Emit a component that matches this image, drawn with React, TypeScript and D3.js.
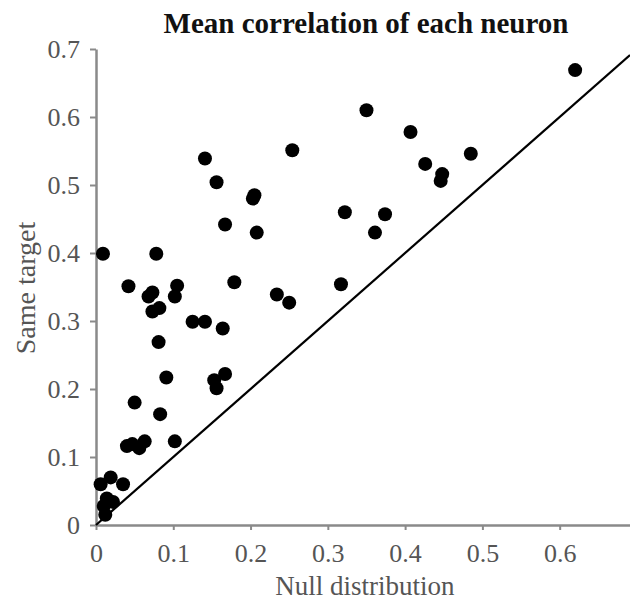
import React, { useEffect, useRef } from 'react';
import * as d3 from 'd3';

// each neuron: mean correlation under the null distribution vs. same target
const nullDist = [
  0.009, 0.078, 0.042, 0.073, 0.068, 0.105, 0.102, 0.082, 0.073, 0.179,
  0.125, 0.141, 0.164, 0.081, 0.091, 0.167, 0.153, 0.156, 0.050, 0.083,
  0.040, 0.047, 0.056, 0.063, 0.102, 0.006, 0.019, 0.035, 0.014, 0.022,
  0.012, 0.010, 0.141, 0.156, 0.203, 0.205, 0.167, 0.208, 0.254, 0.234,
  0.250, 0.350, 0.407, 0.426, 0.448, 0.446, 0.485, 0.322, 0.374, 0.361,
  0.620, 0.317
];
const sameTarget = [
  0.399, 0.399, 0.351, 0.342, 0.336, 0.352, 0.336, 0.319, 0.314, 0.357,
  0.299, 0.299, 0.289, 0.269, 0.217, 0.222, 0.213, 0.201, 0.180, 0.163,
  0.116, 0.119, 0.113, 0.123, 0.123, 0.060, 0.070, 0.060, 0.039, 0.034,
  0.015, 0.028, 0.539, 0.504, 0.480, 0.485, 0.442, 0.430, 0.551, 0.339,
  0.327, 0.610, 0.578, 0.531, 0.516, 0.506, 0.546, 0.460, 0.457, 0.430,
  0.669, 0.354
];

const xTicks = [0, 0.1, 0.2, 0.3, 0.4, 0.5, 0.6];
const yTicks = [0, 0.1, 0.2, 0.3, 0.4, 0.5, 0.6, 0.7];
const identityLine = [0, 0.691];

const title = 'Mean correlation of each neuron';
const xLabel = 'Null distribution';
const yLabel = 'Same target';

const serif = '"Liberation Serif", "Times New Roman", Times, serif';

export default function App() {
  const ref = useRef<SVGSVGElement>(null);

  useEffect(() => {
    const svg = d3.select(ref.current);
    svg.selectAll('*').remove();

    const x = d3.scaleLinear().domain([0, 0.691]).range([96, 630]);
    const y = d3.scaleLinear().domain([0, 0.7]).range([525, 49]);
    const fmt = (d: number) => (d === 0 ? '0' : d3.format('.1f')(d));

    const xAxis = svg.append('g')
      .attr('transform', 'translate(0,525)')
      .call(d3.axisBottom(x).tickValues(xTicks).tickFormat(fmt as any)
        .tickSize(5).tickSizeOuter(0).tickPadding(14));

    const yAxis = svg.append('g')
      .attr('transform', 'translate(96,0)')
      .call(d3.axisLeft(y).tickValues(yTicks).tickFormat(fmt as any)
        .tickSize(6).tickSizeOuter(0).tickPadding(10));

    [xAxis, yAxis].forEach(function(a) {
      a.attr('font-family', null).attr('font-size', null);
      a.select('.domain').attr('stroke', '#8a8a8a').attr('stroke-width', 2.5);
      a.selectAll('.tick line').attr('stroke', '#8a8a8a').attr('stroke-width', 2);
      a.selectAll('.tick text')
        .attr('fill', '#555')
        .style('font-family', serif)
        .style('font-size', '26px');
    });
    yAxis.selectAll('.tick text').attr('dy', '0.34em');

    svg.append('line')
      .attr('x1', x(identityLine[0])).attr('y1', y(identityLine[0]))
      .attr('x2', x(identityLine[1])).attr('y2', y(identityLine[1]))
      .attr('stroke', '#000')
      .attr('stroke-width', 2.2);

    svg.selectAll('.dot')
      .data(nullDist)
      .enter().append('circle')
        .attr('class', 'dot')
        .attr('r', 7)
        .attr('cx', function(d) { return x(d); })
        .attr('cy', function(d, i) { return y(sameTarget[i]); })
        .attr('fill', '#000');

    svg.append('text')
      .attr('x', 366).attr('y', 33)
      .attr('text-anchor', 'middle')
      .style('font-family', serif)
      .style('font-weight', 'bold')
      .style('font-size', '29px')
      .attr('fill', '#111')
      .text(title);

    svg.append('text')
      .attr('x', 365).attr('y', 595)
      .attr('text-anchor', 'middle')
      .style('font-family', serif)
      .style('font-size', '27px')
      .attr('fill', '#555')
      .text(xLabel);

    svg.append('text')
      .attr('transform', 'translate(35,288) rotate(-90)')
      .attr('text-anchor', 'middle')
      .style('font-family', serif)
      .style('font-size', '28px')
      .attr('fill', '#555')
      .text(yLabel);
  }, []);

  return (
    <svg ref={ref} width={630} height={600}
      style={{ position: 'absolute', left: 0, top: 0, background: '#fff' }} />
  );
}
